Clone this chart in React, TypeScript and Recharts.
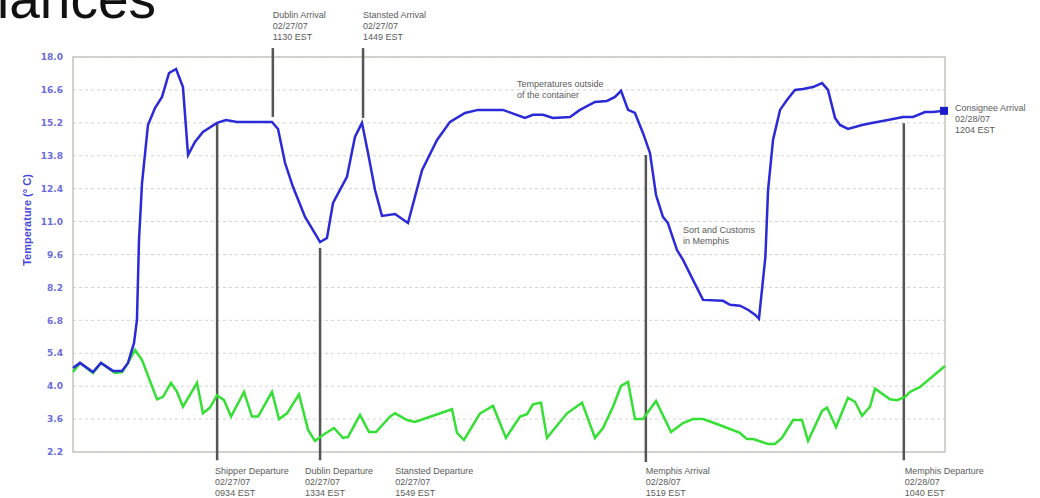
import { LineChart, Line, XAxis, YAxis, CartesianGrid, ReferenceLine, ReferenceArea } from 'recharts';

// temperature axis labels, drawn evenly spaced (the bottom of the scale is not linear)
const tickLabels = ['2.2', '3.6', '4.0', '5.4', '6.8', '8.2', '9.6', '11.0', '12.4', '13.8', '15.2', '16.6', '18.0'];
const tickValues = tickLabels.map(Number);

// hours since the logger was started
const outsideHours = [
  0, 0.58, 1.65, 2.31, 3.3, 4.05, 4.54, 5.04, 5.28, 5.45, 5.7, 6.19, 6.77, 7.35, 7.93, 8.51, 9.08, 9.5, 10.07, 10.73,
  11.89, 12.63, 13.54, 16.43, 16.93, 17.51, 18.17, 19.16, 20.15, 20.4, 20.97, 21.47, 22.62, 23.28, 23.86, 24.36, 24.94,
  25.51, 26.59, 27.66, 28.82, 30.06, 31.13, 32.37, 33.44, 35.5, 37.32, 37.98, 38.81, 39.63, 41.04, 41.86, 43.1, 44.09,
  44.75, 45.25, 45.83, 46.4, 47.06, 47.64, 48.14, 48.71, 49.12, 49.87, 50.37, 51.19, 52.02, 53.67, 54.25, 55.07, 55.73,
  56.31, 56.64, 57.17, 57.39, 57.8, 58.38, 58.95, 59.61, 60.28, 61.1, 61.85, 62.34, 62.92, 63.33, 63.99, 65.15, 66.06,
  67.29, 68.53, 69.36, 70.35, 71.01, 71.92,
];
const outsideTemps = [
  4.77, 4.99, 4.6, 4.99, 4.65, 4.65, 4.99, 5.84, 6.82, 10.22, 12.64, 15.11, 15.83, 16.3, 17.32, 17.49, 16.72, 13.83, 14.39,
  14.81, 15.2, 15.32, 15.24, 15.24, 14.94, 13.49, 12.47, 11.2, 10.35, 10.13, 10.3, 11.79, 12.9, 14.6, 15.2, 13.92, 12.34,
  11.24, 11.32, 10.94, 13.19, 14.47, 15.24, 15.62, 15.75, 15.75, 15.41, 15.54, 15.54, 15.41, 15.45, 15.75, 16.09, 16.13,
  16.3, 16.56, 15.75, 15.62, 14.77, 13.92, 12.13, 11.2, 10.94, 9.79, 9.37, 8.52, 7.67, 7.63, 7.46, 7.42, 7.25, 7.04, 6.87,
  9.5, 12.34, 14.47, 15.75, 16.17, 16.6, 16.64, 16.72, 16.89, 16.6, 15.41, 15.11, 14.94, 15.11, 15.2, 15.32, 15.45, 15.45,
  15.66, 15.66, 15.71,
];

const insideHours = [
  0, 0.58, 1.65, 2.31, 3.47, 4.05, 4.54, 5.12, 5.7, 6.94, 7.43, 8.09, 8.59, 9.08, 10.24, 10.73, 11.31, 11.89, 12.47, 13.05,
  14.12, 14.78, 15.28, 16.43, 17.01, 17.67, 18.66, 19.41, 19.98, 20.64, 21.55, 22.29, 22.71, 23.7, 24.44, 25.02, 26.17,
  26.59, 27.58, 28.24, 31.29, 31.71, 32.28, 33.61, 34.68, 35.75, 36.91, 37.49, 37.98, 38.64, 39.14, 40.79, 42.03, 43.1,
  43.76, 44.59, 45.25, 45.83, 46.4, 47.06, 48.14, 49.38, 50.37, 51.19, 52.02, 53.17, 55.07, 55.65, 56.15, 57.39, 57.96,
  58.54, 59.45, 60.19, 60.69, 61.85, 62.26, 63.0, 63.99, 64.57, 65.15, 65.81, 66.22, 67.46, 68.04, 68.7, 69.11, 69.94, 72,
];
const insideTemps = [
  4.6, 4.99, 4.56, 4.99, 4.56, 4.6, 4.99, 5.54, 5.11, 3.84, 3.87, 4.14, 3.93, 3.75, 4.14, 3.67, 3.74, 3.89, 3.83, 3.63,
  3.93, 3.63, 3.63, 3.93, 3.6, 3.67, 3.9, 3.14, 2.67, 2.92, 3.22, 2.8, 2.84, 3.65, 3.05, 3.05, 3.63, 3.67, 3.56, 3.48, 3.72,
  3.01, 2.71, 3.67, 3.76, 2.8, 3.63, 3.66, 3.78, 3.8, 2.8, 3.67, 3.8, 2.8, 3.22, 3.75, 4.01, 4.18, 3.6, 3.6, 3.82, 3.05,
  3.43, 3.6, 3.6, 3.39, 3.01, 2.75, 2.75, 2.54, 2.54, 2.8, 3.56, 3.56, 2.67, 3.7, 3.74, 3.26, 3.86, 3.81, 3.64, 3.75, 3.97,
  3.84, 3.83, 3.87, 3.93, 3.99, 4.86,
];

// shipment milestones
const eventNames = ['Shipper Departure', 'Dublin Arrival', 'Dublin Departure', 'Stansted Arrival', 'Stansted Departure', 'Memphis Arrival', 'Memphis Departure', 'Consignee Arrival'];
const eventDates = ['02/27/07', '02/27/07', '02/27/07', '02/27/07', '02/27/07', '02/28/07', '02/28/07', '02/28/07'];
const eventTimes = ['0934 EST', '1130 EST', '1334 EST', '1449 EST', '1549 EST', '1519 EST', '1040 EST', '1204 EST'];
const eventHours = [11.9, 16.5, 20.4, 23.95, 26.6, 47.3, 68.6, 72];

// marker extents (axis steps) and where each caption sits
const markerSpans: ([number, number] | null)[] = [
  [10, -0.25], [12.27, 10.18], [6.2, -0.25], [12.27, 10.15], null, [9.02, -0.3], [9.99, -0.25], null,
];
const captionPlace = [
  { side: 'bottom', dx: -2 }, { side: 'top', dx: 0 }, { side: 'bottom', dx: -15 }, { side: 'top', dx: 0 },
  { side: 'bottom', dx: 0 }, { side: 'bottom', dx: 0 }, { side: 'bottom', dx: 1 }, { side: 'right', dx: 10 },
];

const W = 1040;
const H = 498;
const PLOT = { left: 73, top: 57, right: 945, bottom: 452 };
const MAX_H = 72;

const BLUE = '#2a2ad8';
const GREEN = '#35e035';
const MARK = '#555555';
const NOTE = '#5a5a5a';

// temperature -> position on the evenly spaced tick scale
function toAxis(t: number) {
  let i = 0;
  while (i < tickValues.length - 2 && t > tickValues[i + 1]) i++;
  return i + (t - tickValues[i]) / (tickValues[i + 1] - tickValues[i]);
}

const outsideData = outsideHours.map((h, i) => ({ h, v: toAxis(outsideTemps[i]) }));
const insideData = insideHours.map((h, i) => ({ h, v: toAxis(insideTemps[i]) }));

const hx = (h: number) => PLOT.left + (h / MAX_H) * (PLOT.right - PLOT.left);

const EndMarker = (props: any) => {
  const { cx, cy, index } = props;
  if (index !== outsideData.length - 1) return <g key={`d${index}`} />;
  return <rect key={`d${index}`} x={cx - 4} y={cy - 4} width={8} height={8} fill="#1c1cc8" />;
};

function Caption({ i }: { i: number }) {
  const place = captionPlace[i];
  const x = hx(eventHours[i]) + place.dx;
  const y0 = place.side === 'top' ? 18 : place.side === 'bottom' ? 474 : 111;
  const lines = [eventNames[i], eventDates[i], eventTimes[i]];
  return (
    <text x={x} y={y0} fontSize={9} fill={NOTE} fontFamily="'Liberation Sans', Arial, sans-serif">
      {lines.map((s, k) => (
        <tspan key={k} x={x} dy={k === 0 ? 0 : 10.8}>{s}</tspan>
      ))}
    </text>
  );
}

export default function App() {
  return (
    <div style={{ position: 'absolute', left: 0, top: 0, width: W, height: H, background: '#fff', overflow: 'hidden' }}>
      <LineChart width={W} height={H} margin={{ top: PLOT.top, right: W - PLOT.right, bottom: H - PLOT.bottom, left: 0 }}>
        <CartesianGrid vertical={false} stroke="#d4d4d4" strokeDasharray="3 3" />
        <CartesianGrid horizontal={false} stroke="#d4d4d4" strokeDasharray="1 3" />
        <XAxis
          type="number"
          dataKey="h"
          domain={[0, MAX_H]}
          ticks={[0, 12, 24, 36, 48, 60, 72]}
          tick={false}
          tickLine={false}
          axisLine={false}
          height={0}
          allowDuplicatedCategory={false}
        />
        <YAxis
          type="number"
          domain={[0, 12]}
          ticks={tickValues.map((_, i) => i)}
          tickFormatter={(i: number) => tickLabels[i]}
          width={PLOT.left}
          tickLine={false}
          tickSize={0}
          tickMargin={10}
          axisLine={false}
          tick={{ fill: '#6b6be0', fontSize: 9, fontWeight: 'bold', fontFamily: "'DejaVu Sans', sans-serif" }}
        />
        <ReferenceArea x1={0} x2={MAX_H} y1={0} y2={12} fill="none" stroke="#c6c6be" strokeWidth={1.5} ifOverflow="visible" />
        {eventHours.map((h, i) => {
          const span = markerSpans[i];
          if (!span) return null;
          return (
            <ReferenceLine
              key={eventNames[i]}
              segment={[{ x: h, y: span[0] }, { x: h, y: span[1] }]}
              stroke={MARK}
              strokeWidth={2.5}
              ifOverflow="visible"
            />
          );
        })}
        <Line
          data={insideData}
          dataKey="v"
          type="linear"
          stroke={GREEN}
          strokeWidth={2.5}
          dot={false}
          isAnimationActive={false}
        />
        <Line
          data={outsideData}
          dataKey="v"
          type="linear"
          stroke={BLUE}
          strokeWidth={2.5}
          dot={EndMarker}
          activeDot={false}
          isAnimationActive={false}
        />
      </LineChart>
      <svg width={W} height={H} style={{ position: 'absolute', left: 0, top: 0, pointerEvents: 'none' }}>
        <text x={-3} y={18} fontSize={55} fill="#111" fontFamily="'Liberation Sans', Arial, sans-serif">iances</text>
        <text
          transform="translate(31, 220) rotate(-90)"
          textAnchor="middle"
          fontSize={11}
          fontWeight="bold"
          fill="#4848d8"
          fontFamily="'Liberation Sans', Arial, sans-serif"
        >
          Temperature (° C)
        </text>
        <text x={517} y={87} fontSize={9} fill={NOTE} fontFamily="'Liberation Sans', Arial, sans-serif">
          <tspan x={517}>Temperatures outside</tspan>
          <tspan x={517} dy={10.8}>of the container</tspan>
        </text>
        <text x={683} y={233} fontSize={9} fill={NOTE} fontFamily="'Liberation Sans', Arial, sans-serif">
          <tspan x={683}>Sort and Customs</tspan>
          <tspan x={683} dy={10.8}>in Memphis</tspan>
        </text>
        {eventNames.map((_, i) => (
          <Caption key={i} i={i} />
        ))}
      </svg>
    </div>
  );
}
